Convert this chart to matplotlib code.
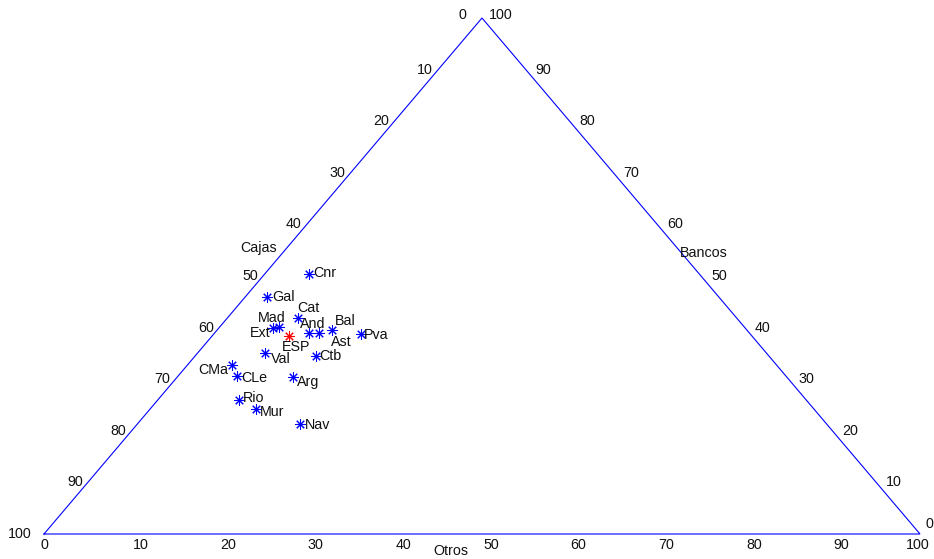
import matplotlib
matplotlib.use("Agg")
import matplotlib.pyplot as plt
import numpy as np

plt.rcParams['font.family'] = ['Liberation Sans', 'DejaVu Sans']

# Composition of deposits by region (%): savings banks, banks, others
regions = ["Cnr", "Gal", "Cat", "Ext", "Mad", "And", "Ast", "Bal", "Pva",
           "Val", "Ctb", "CMa", "CLe", "Arg", "Rio", "Mur", "Nav"]
cajas  = [44.6, 51.5, 50.1, 53.9, 53.1, 50.2, 49.2, 47.4, 44.5,
          57.3, 51.7, 62.1, 62.7, 56.5, 64.8, 63.7, 60.1]
bancos = [50.3, 46.0, 41.8, 40.0, 40.1, 39.0, 38.9, 39.5, 38.7,
          35.0, 34.5, 32.8, 30.6, 30.4, 25.9, 24.2, 21.3]
otros  = [5.1, 2.5, 8.1, 6.1, 6.8, 10.8, 11.9, 13.1, 16.8,
          7.7, 13.8, 5.1, 6.7, 13.2, 9.3, 12.1, 18.6]

# National total
esp_label = "ESP"
esp_cajas, esp_bancos, esp_otros = 52.8, 38.4, 8.8

ticks = [0, 10, 20, 30, 40, 50, 60, 70, 80, 90, 100]

# Label placement around each marker (pixel offsets, alignment)
label_style = {
    "Cnr": (4, 1, "left"),   "Gal": (5, 0, "left"),   "Cat": (-1, 10, "left"),
    "Mad": (-21, 9, "left"), "Ext": (-2, -5, "right"), "And": (-9, 9, "left"),
    "Ast": (12, -9, "left"), "Bal": (3, 9, "left"),   "Pva": (3, -1, "left"),
    "Val": (6, -6, "left"),  "Ctb": (3, 0, "left"),   "CMa": (-4, -5, "right"),
    "CLe": (5, -2, "left"),  "Arg": (4, -5, "left"),  "Rio": (4, 2, "left"),
    "Mur": (4, -3, "left"),  "Nav": (5, -1, "left"),  "ESP": (-7, -11, "left"),
}


def to_xy(c, b, o):
    """Ternary -> plane: Cajas at bottom-left, Bancos at top, Otros at bottom-right."""
    c, b, o = (np.asarray(v, dtype=float) for v in (c, b, o))
    s = c + b + o
    b, o = b / s, o / s
    return 0.5 * b + o, b


W, H = 934, 559
fig = plt.figure(figsize=(W / 100, H / 100), dpi=100)
ax = fig.add_axes([0, 0, 1, 1])
x0, x1 = 44, 920
y0, y1 = 534, 18
ax.set_xlim(-x0 / (x1 - x0), (W - x0) / (x1 - x0))
ax.set_ylim(-(H - y0) / (y0 - y1), y0 / (y0 - y1))
ax.axis("off")

# Triangle frame
tri_x = [0, 1, 0.5, 0]
tri_y = [0, 0, 1, 0]
ax.plot(tri_x, tri_y, color="#0000ff", lw=0.8, solid_joinstyle="miter")

fs = 10.3
tk = dict(fontsize=fs, color="#111111", textcoords="offset pixels")

for v in ticks:
    f = v / 100
    # Otros along the bottom edge
    px, py = to_xy(1 - f, 0, f)
    dx = 0 if v == 0 else (-2 if v == 100 else 9)
    ax.annotate(str(v), (px, py), xytext=(dx, -11), ha="center", va="center", **tk)
    # Cajas along the left edge
    px, py = to_xy(f, 1 - f, 0)
    if v == 0:
        off = (-16, 3)
    elif v == 100:
        off = (-12, 0)
    else:
        off = (-5, 0)
    ax.annotate(str(v), (px, py), xytext=off, ha="right", va="center", **tk)
    # Bancos along the right edge
    px, py = to_xy(0, f, 1 - f)
    if v == 0:
        off = (6, 10)
    elif v == 100:
        off = (7, 3)
    else:
        off = (10, 0)
    ax.annotate(str(v), (px, py), xytext=off, ha="left", va="center", **tk)

# Axis titles
ax.annotate("Cajas", to_xy(44.6, 55.4, 0), xytext=(-28, 0), ha="center", va="center", **tk)
ax.annotate("Bancos", to_xy(0, 54.5, 45.5), xytext=(22, 0), ha="center", va="center", **tk)
ax.annotate("Otros", to_xy(53.6, 0, 46.4), xytext=(0, -17), ha="center", va="center", **tk)

# Regions
rx, ry = to_xy(cajas, bancos, otros)
ax.plot(rx, ry, linestyle="none", marker=(8, 2, 0), markersize=7.5,
        markeredgewidth=0.75, color="#0000ff")
for name, x, y in zip(regions, rx, ry):
    dx, dy, ha = label_style[name]
    ax.annotate(name, (x, y), xytext=(dx, dy), ha=ha, va="center", **tk)

# Spain
ex, ey = to_xy(esp_cajas, esp_bancos, esp_otros)
ax.plot([ex], [ey], linestyle="none", marker=(8, 2, 0), markersize=7.5,
        markeredgewidth=0.75, color="#ff0000")
dx, dy, ha = label_style[esp_label]
ax.annotate(esp_label, (ex, ey), xytext=(dx, dy), ha=ha, va="center", **tk)

fig.savefig("out.png", dpi=100, facecolor="white")
